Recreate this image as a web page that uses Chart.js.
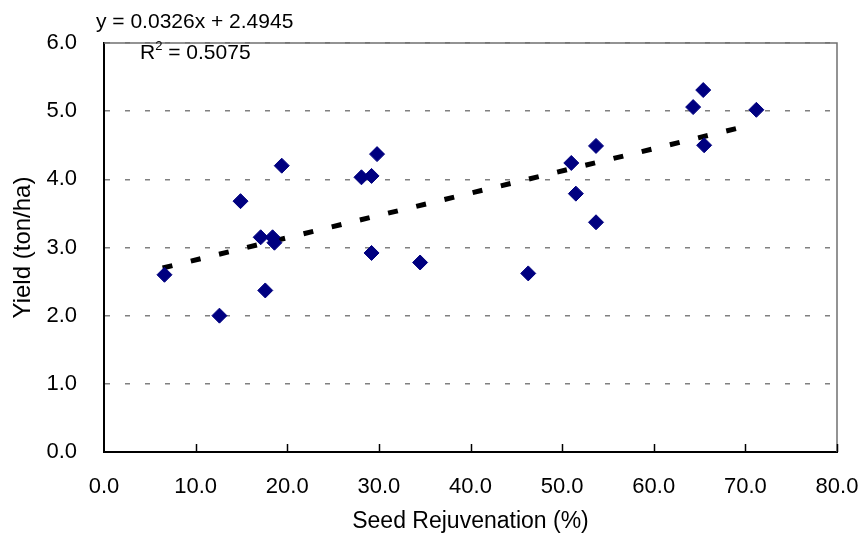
<!DOCTYPE html>
<html>
<head>
<meta charset="utf-8">
<script src="https://cdn.jsdelivr.net/npm/chart.js@4.4.1/dist/chart.umd.min.js"></script>
<style>
  html, body { margin: 0; padding: 0; background: #fff; }
  #wrap { position: relative; width: 859px; height: 539px; }
</style>
</head>
<body>
<div id="wrap"><canvas id="chart" width="859" height="539"></canvas></div>
<script>
// seed rejuvenation (%) vs yield (ton/ha)
const rejuvenation = [6.6, 12.6, 14.9, 17.1, 17.6, 18.4, 18.6, 19.4, 28.1, 29.2, 29.2, 29.8,
  34.5, 46.3, 51.0, 51.5, 53.7, 53.7, 64.3, 65.4, 65.5, 71.2];
const yieldValues = [2.60, 2.00, 3.68, 3.15, 2.37, 3.15, 3.07, 4.20, 4.03, 4.05, 2.92, 4.37,
  2.78, 2.62, 4.24, 3.79, 4.49, 3.37, 5.06, 5.31, 4.50, 5.02];

// linear trendline ends (visible part)
const trendX = [6.4, 69.8];
const trendY = [2.70, 4.77];
const equationText = "y = 0.0326x + 2.4945";
const r2Text = "= 0.5075";

const xTicks = [0, 10, 20, 30, 40, 50, 60, 70, 80];
const yTicks = [0, 1, 2, 3, 4, 5, 6];

const FONT = "'Liberation Sans', Arial, sans-serif";

// frame on top/right, inward x ticks and the regression text
const extras = {
  id: "extras",
  beforeDatasetsDraw(chart) {
    const { ctx, chartArea: a } = chart;
    ctx.save();
    ctx.strokeStyle = "#707070";
    ctx.lineWidth = 1.5;
    ctx.beginPath();
    ctx.moveTo(a.left, a.top);
    ctx.lineTo(a.right, a.top);
    ctx.lineTo(a.right, a.bottom);
    ctx.stroke();

    const xs = chart.scales.x;
    ctx.strokeStyle = "#000";
    ctx.lineWidth = 1.5;
    xTicks.slice(1).forEach((v) => {
      const px = Math.round(xs.getPixelForValue(v)) + 0.5;
      ctx.beginPath();
      ctx.moveTo(px, a.bottom);
      ctx.lineTo(px, a.bottom - 8);
      ctx.stroke();
    });
    ctx.restore();
  },
  afterDraw(chart) {
    const { ctx } = chart;
    ctx.save();
    ctx.fillStyle = "#000";
    ctx.textBaseline = "alphabetic";
    ctx.font = "21px " + FONT;
    ctx.fillText(equationText, 96, 28);
    ctx.fillText("R", 140, 59);
    const rw = ctx.measureText("R").width;
    ctx.font = "13px " + FONT;
    ctx.fillText("2", 140 + rw, 50);
    const sw = ctx.measureText("2").width;
    ctx.font = "21px " + FONT;
    ctx.fillText(" " + r2Text, 140 + rw + sw, 59);
    ctx.restore();
  },
};

new Chart(document.getElementById("chart"), {
  type: "scatter",
  data: {
    datasets: [
      {
        label: "Yield",
        data: rejuvenation.map((x, i) => ({ x: x, y: yieldValues[i] })),
        pointStyle: "rectRot",
        pointRadius: 7.5,
        backgroundColor: "#000080",
        borderColor: "#000080",
        borderWidth: 1,
        order: 1,
      },
      {
        label: "Linear",
        type: "line",
        data: trendX.map((x, i) => ({ x: x, y: trendY[i] })),
        borderColor: "#000",
        borderWidth: 5,
        borderDash: [10, 19],
        borderCapStyle: "butt",
        pointRadius: 0,
        fill: false,
        order: 2,
      },
    ],
  },
  options: {
    responsive: false,
    animation: false,
    layout: { padding: { top: 43, right: 22, left: 0, bottom: 0 } },
    plugins: { legend: { display: false }, tooltip: { enabled: false } },
    scales: {
      x: {
        type: "linear",
        min: 0,
        max: 80,
        afterFit: (s) => { s.height = 87; s.paddingLeft = 0; s.paddingRight = 0; },
        afterBuildTicks: (s) => { s.ticks = xTicks.map((v) => ({ value: v })); },
        grid: { display: false, drawTicks: false },
        border: { color: "#000", width: 2 },
        ticks: {
          color: "#000",
          padding: 22,
          maxRotation: 0,
          font: { family: FONT, size: 22 },
          callback: (v) => v.toFixed(1),
        },
        title: {
          display: true,
          text: "Seed Rejuvenation (%)",
          color: "#000",
          font: { family: FONT, size: 23 },
          padding: { top: 0, bottom: 4 },
        },
      },
      y: {
        type: "linear",
        min: 0,
        max: 6,
        afterFit: (s) => { s.width = 104; s.paddingTop = 0; s.paddingBottom = 0; },
        afterBuildTicks: (s) => { s.ticks = yTicks.map((v) => ({ value: v })); },
        grid: {
          color: "#808080",
          lineWidth: 1.5,
          drawTicks: false,
        },
        border: { color: "#000", width: 2, dash: [5, 15] },
        ticks: {
          color: "#000",
          padding: 27,
          font: { family: FONT, size: 22 },
          callback: (v) => v.toFixed(1),
        },
        title: {
          display: true,
          text: "Yield (ton/ha)",
          color: "#000",
          font: { family: FONT, size: 24 },
          padding: { top: 9, bottom: 0 },
        },
      },
    },
  },
  plugins: [extras],
});
</script>
</body>
</html>
